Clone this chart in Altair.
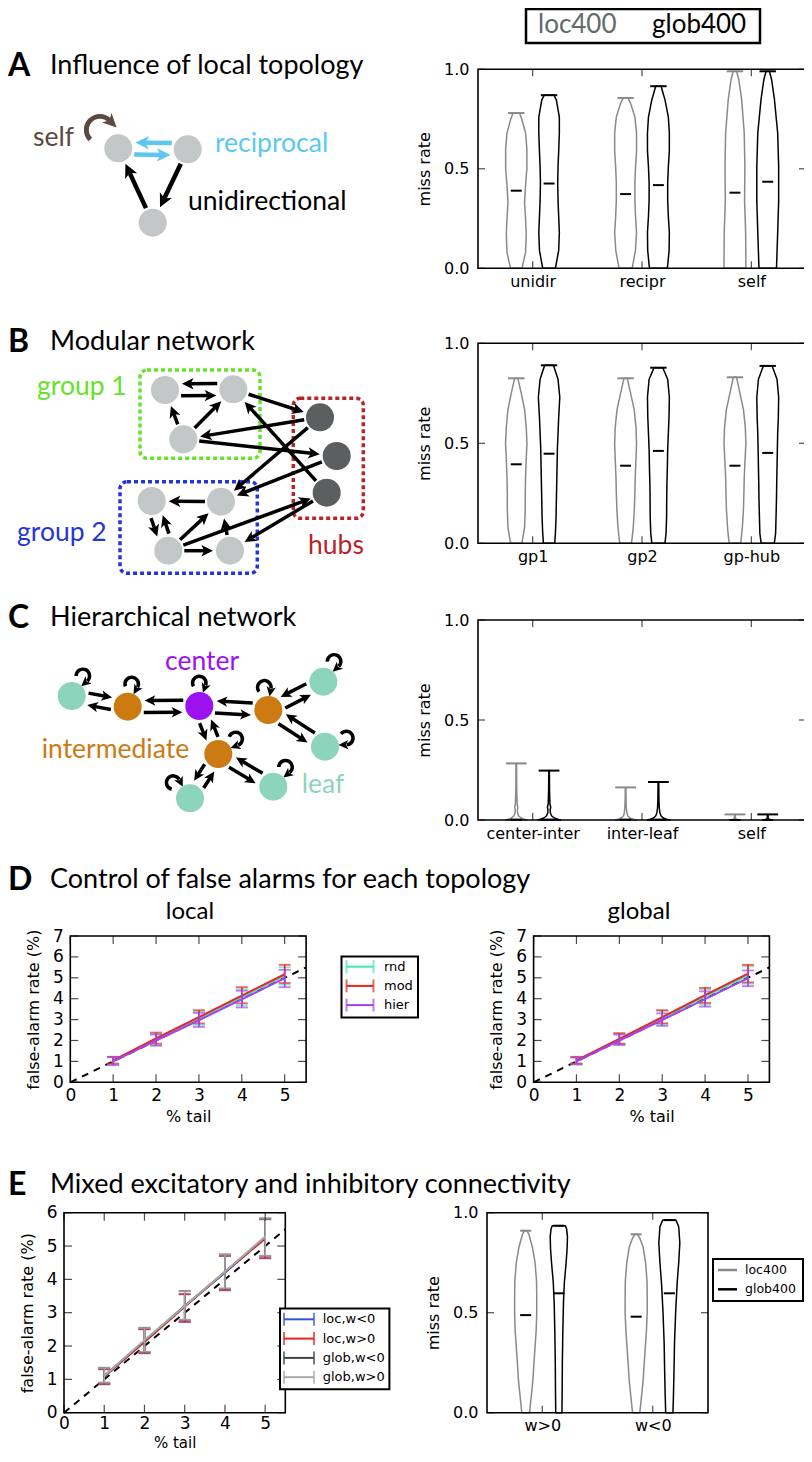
import math
import altair as alt
import pandas as pd

W, H = 796, 1446          # view size (page = chart + 8px margin)
PAD = 8
SANS = "DejaVu Sans"
HEADF = "Lato"
LOC_GREY = "#8a8a8a"

# ===================== DATA =====================
# ---- Panel A violins (miss rate) ----
A_cats = ["unidir", "recipr", "self"]
A_loc_y = [
    [0, 0.08, 0.17, 0.25, 0.33, 0.42, 0.50, 0.60, 0.68, 0.75, 0.78],
    [0, 0.09, 0.18, 0.26, 0.34, 0.43, 0.51, 0.59, 0.68, 0.76, 0.83, 0.856],
    [0, 0.03, 0.18, 0.34, 0.51, 0.68, 0.85, 0.95, 0.99],
]
A_loc_hw = [
    [0.052, 0.085, 0.091, 0.085, 0.076, 0.085, 0.097, 0.097, 0.085, 0.05, 0.03],
    [0.060, 0.090, 0.100, 0.091, 0.085, 0.085, 0.091, 0.100, 0.100, 0.085, 0.045, 0.02],
    [0.100, 0.100, 0.098, 0.088, 0.091, 0.085, 0.061, 0.035, 0.015],
]
A_glob_y = [
    [0, 0.09, 0.18, 0.26, 0.34, 0.43, 0.51, 0.59, 0.68, 0.76, 0.845, 0.87],
    [0, 0.09, 0.18, 0.26, 0.34, 0.43, 0.51, 0.59, 0.68, 0.76, 0.845, 0.895, 0.915],
    [0, 0.03, 0.18, 0.34, 0.51, 0.68, 0.85, 0.95, 0.99],
]
A_glob_hw = [
    [0.058, 0.088, 0.094, 0.088, 0.082, 0.079, 0.082, 0.088, 0.094, 0.094, 0.067, 0.045],
    [0.082, 0.098, 0.100, 0.091, 0.085, 0.085, 0.091, 0.100, 0.100, 0.091, 0.061, 0.035, 0.025],
    [0.080, 0.082, 0.091, 0.100, 0.100, 0.091, 0.061, 0.035, 0.015],
]
A_loc_med = [0.39, 0.373, 0.38]
A_glob_med = [0.426, 0.418, 0.435]

# ---- Panel B violins ----
B_cats = ["gp1", "gp2", "gp-hub"]
B_loc_y = [
    [0, 0.01, 0.08, 0.17, 0.25, 0.33, 0.42, 0.50, 0.58, 0.67, 0.75, 0.825],
    [0, 0.01, 0.08, 0.17, 0.25, 0.33, 0.42, 0.50, 0.58, 0.67, 0.75, 0.825],
    [0, 0.01, 0.08, 0.17, 0.25, 0.33, 0.42, 0.50, 0.58, 0.67, 0.75, 0.83],
]
B_loc_hw = [
    [0.050, 0.055, 0.076, 0.082, 0.082, 0.085, 0.091, 0.098, 0.091, 0.076, 0.046, 0.015],
    [0.052, 0.056, 0.070, 0.080, 0.085, 0.088, 0.095, 0.100, 0.095, 0.078, 0.046, 0.015],
    [0.052, 0.055, 0.068, 0.078, 0.082, 0.085, 0.093, 0.100, 0.095, 0.078, 0.046, 0.015],
]
B_glob_y = [
    [0, 0.05, 0.13, 0.22, 0.30, 0.38, 0.47, 0.55, 0.63, 0.73, 0.82, 0.89],
    [0, 0.05, 0.13, 0.22, 0.30, 0.38, 0.47, 0.55, 0.63, 0.73, 0.82, 0.878],
    [0, 0.05, 0.13, 0.22, 0.30, 0.38, 0.47, 0.55, 0.63, 0.73, 0.82, 0.887],
]
B_glob_hw = [
    [0.052, 0.058, 0.064, 0.067, 0.070, 0.073, 0.076, 0.082, 0.088, 0.098, 0.082, 0.040],
    [0.060, 0.070, 0.075, 0.076, 0.078, 0.082, 0.085, 0.091, 0.097, 0.100, 0.085, 0.040],
    [0.060, 0.072, 0.076, 0.080, 0.082, 0.085, 0.088, 0.091, 0.097, 0.100, 0.085, 0.040],
]
B_loc_med = [0.395, 0.388, 0.388]
B_glob_med = [0.448, 0.462, 0.452]

# ---- Panel C violins ----
C_cats = ["center-inter", "inter-leaf", "self"]
C_loc_y = [
    [0, 0.004, 0.01, 0.02, 0.035, 0.05, 0.065, 0.08, 0.15, 0.283],
    [0, 0.004, 0.01, 0.02, 0.035, 0.06, 0.10, 0.163],
    [0, 0.005, 0.01, 0.028],
]
C_loc_hw = [
    [0.10, 0.075, 0.045, 0.022, 0.012, 0.010, 0.014, 0.008, 0.004, 0.003],
    [0.10, 0.070, 0.040, 0.020, 0.012, 0.007, 0.004, 0.003],
    [0.03, 0.010, 0.004, 0.003],
]
C_glob_y = [
    [0, 0.004, 0.01, 0.02, 0.035, 0.05, 0.065, 0.08, 0.15, 0.247],
    [0, 0.004, 0.01, 0.02, 0.035, 0.06, 0.10, 0.19],
    [0, 0.005, 0.01, 0.028],
]
C_glob_hw = [
    [0.105, 0.080, 0.048, 0.024, 0.012, 0.010, 0.015, 0.008, 0.004, 0.003],
    [0.105, 0.075, 0.045, 0.025, 0.014, 0.008, 0.005, 0.003],
    [0.03, 0.010, 0.004, 0.003],
]
C_loc_med = [0.002, 0.002, 0.0]
C_glob_med = [0.002, 0.002, 0.0]

# ---- Panel E violins ----
E_cats = ["w>0", "w<0"]
E_loc_y = [
    [0, 0.08, 0.16, 0.25, 0.33, 0.41, 0.50, 0.58, 0.66, 0.75, 0.83, 0.89, 0.91],
    [0, 0.08, 0.16, 0.25, 0.33, 0.41, 0.50, 0.58, 0.66, 0.75, 0.83, 0.87, 0.892],
]
E_loc_hw = [
    [0.035, 0.050, 0.065, 0.075, 0.085, 0.095, 0.100, 0.100, 0.098, 0.085, 0.060, 0.030, 0.012],
    [0.033, 0.048, 0.063, 0.073, 0.083, 0.093, 0.100, 0.100, 0.098, 0.085, 0.062, 0.035, 0.012],
]
E_glob_y = [
    [0, 0.10, 0.25, 0.40, 0.55, 0.65, 0.75, 0.82, 0.88, 0.92, 0.935],
    [0, 0.10, 0.20, 0.35, 0.50, 0.65, 0.75, 0.85, 0.93, 0.963],
]
E_glob_hw = [
    [0.028, 0.030, 0.032, 0.036, 0.042, 0.050, 0.066, 0.075, 0.078, 0.070, 0.060],
    [0.033, 0.038, 0.042, 0.047, 0.057, 0.071, 0.085, 0.095, 0.085, 0.060],
]
E_loc_med = [0.488, 0.48]
E_glob_med = [0.597, 0.597]

# ---- Panel D: false-alarm rate vs % tail ----
TAIL = [1, 2, 3, 4, 5]
REF_LINE = [0, 5.5]
D_series = ["rnd", "mod", "hier"]
D_colors = ["#46e6b4", "#e8241c", "#a444ee"]
DL_mean = [[1.02, 2.05, 3.05, 4.07, 5.10], [1.05, 2.10, 3.12, 4.15, 5.17], [1.00, 2.00, 2.97, 3.97, 4.98]]
DL_lo = [[0.85, 1.78, 2.75, 3.68, 4.68], [0.90, 1.85, 2.82, 3.78, 4.75], [0.82, 1.75, 2.65, 3.58, 4.55]]
DL_hi = [[1.20, 2.32, 3.38, 4.45, 5.50], [1.22, 2.38, 3.45, 4.55, 5.62], [1.20, 2.28, 3.32, 4.38, 5.38]]
DG_mean = [[1.03, 2.06, 3.07, 4.10, 5.12], [1.05, 2.08, 3.12, 4.17, 5.20], [1.00, 2.00, 2.98, 3.98, 4.98]]
DG_lo = [[0.88, 1.82, 2.78, 3.72, 4.72], [0.90, 1.85, 2.82, 3.80, 4.78], [0.85, 1.78, 2.70, 3.62, 4.60]]
DG_hi = [[1.20, 2.33, 3.42, 4.45, 5.55], [1.22, 2.35, 3.45, 4.52, 5.62], [1.18, 2.28, 3.30, 4.35, 5.35]]

# ---- Panel E left: mixed connectivity ----
E_series = ["loc,w<0", "loc,w>0", "glob,w<0", "glob,w>0"]
E_colors = ["#3355dd", "#e82020", "#444444", "#a8a8a8"]
EL_mean = [[1.10, 2.15, 3.20, 4.20, 5.25], [1.08, 2.12, 3.18, 4.22, 5.22],
           [1.10, 2.15, 3.20, 4.22, 5.27], [1.10, 2.17, 3.20, 4.23, 5.28]]
EL_lo = [[0.85, 1.78, 2.72, 3.67, 4.63], [0.86, 1.79, 2.73, 3.68, 4.64],
         [0.90, 1.82, 2.78, 3.72, 4.70], [0.90, 1.83, 2.79, 3.73, 4.71]]
EL_hi = [[1.30, 2.50, 3.55, 4.70, 5.80], [1.31, 2.51, 3.56, 4.71, 5.81],
         [1.35, 2.55, 3.65, 4.75, 5.83], [1.34, 2.54, 3.64, 4.74, 5.82]]

VIOLIN_KEYS = ["loc400", "glob400"]

# ---- network diagrams (diagram coordinates) ----
A_node_x = [118.3, 187.7, 152.7]
A_node_y = [148.3, 149.3, 222.7]
A_src = [1, 0, 1, 2]
A_dst = [0, 1, 2, 0]
A_kind = ["recip", "recip", "uni", "uni"]

B_node_x = [165, 233.3, 183.3, 320, 336.7, 326.7, 151.7, 221, 168.3, 230]
B_node_y = [390, 389.3, 439.3, 417.3, 456, 492.7, 501, 501.7, 550.7, 550.7]
B_node_kind = ["g", "g", "g", "hub", "hub", "hub", "g", "g", "g", "g"]
B_src = [1, 0, 2, 2, 1, 3, 2, 3, 5, 4, 8, 5, 7, 6, 8, 8, 8, 9]
B_dst = [0, 1, 0, 1, 3, 2, 4, 7, 1, 7, 5, 9, 6, 8, 6, 7, 9, 7]
B_pair = [1, 1, 0, 0, 0, 0, 0, 0, 0, 0, 0, 0, 0, 1, 1, 0, 0, 0]
B_groups = ["group 1", "group 2", "hubs"]

C_node_x = [199.3, 127.7, 268.3, 218.3, 71.7, 323.3, 325, 273.3, 190]
C_node_y = [706, 706.7, 710, 754, 696, 681.7, 746.7, 786.7, 798.3]
C_node_kind = ["center", "inter", "inter", "inter", "leaf", "leaf", "leaf", "leaf", "leaf"]
C_src = [1, 4, 0, 1, 0, 2, 0, 3, 2, 5, 2, 6, 3, 7, 3, 8]
C_dst = [4, 1, 1, 0, 2, 0, 3, 0, 5, 2, 6, 2, 7, 3, 8, 3]
C_side = [-1, -1, 1, 1, 1, 1, 1, 1, 1, 1, 1, 1, 1, 1, 1, 1]
C_loop_dir = [0, 10, 350, 49, 29, 28, 68, 32, 313]

# ===================== STYLE / LAYOUT =====================
NODE_COL = {"g": "#c3c7c7", "hub": "#5b5f5f", "center": "#9b12ee",
            "inter": "#cc7a12", "leaf": "#8cd4bb"}
RECIP_COL = "#5cc8f0"
SELF_COL = "#5b4a42"
GROUP_COL = ["#66e22a", "#2436d8", "#b8242a"]
ARROW = "M0,-1L0.95,0.95L0,0.45L-0.95,0.95Z"
HEAD_FS = 27
LABEL_FS = 26.5
AX_TITLE_FS = 16


def lin(dom, rng):
    return alt.Scale(domain=dom, range=rng, nice=False, zero=False)


def mk_axis(**kw):
    base = dict(ticks=False, domain=False, grid=False, labelFlush=False,
                labelOverlap=False, labelColor="black", titleColor="black",
                labelFont=SANS, titleFont=SANS, titleFontWeight="normal")
    base.update(kw)
    return alt.Axis(**base)


def frame_layers(X, Y, xd, yd, xticks, yticks, tl=7):
    fr = pd.DataFrame({"x": [xd[0]], "x2": [xd[1]], "y": [yd[0]], "y2": [yd[1]]})
    frame = alt.Chart(fr).mark_rect(fillOpacity=0, stroke="black", strokeWidth=1.6).encode(
        x=X("x"), x2="x2:Q", y=Y("y"), y2="y2:Q")
    tx = pd.DataFrame({"v": xticks, "lo": [yd[0]] * len(xticks), "hi": [yd[1]] * len(xticks)})
    ty = pd.DataFrame({"v": yticks, "lo": [xd[0]] * len(yticks), "hi": [xd[1]] * len(yticks)})
    h = tl / 2
    kw = dict(size=tl, thickness=1.2, color="black")
    t1 = alt.Chart(tx).mark_tick(orient="vertical", yOffset=-h, **kw).encode(x=X("v"), y=Y("lo"))
    t2 = alt.Chart(tx).mark_tick(orient="vertical", yOffset=h, **kw).encode(x=X("v"), y=Y("hi"))
    t3 = alt.Chart(ty).mark_tick(orient="horizontal", xOffset=h, **kw).encode(x=X("lo"), y=Y("v"))
    t4 = alt.Chart(ty).mark_tick(orient="horizontal", xOffset=-h, **kw).encode(x=X("hi"), y=Y("v"))
    return [t1, t2, t3, t4, frame]


def violin_panel(cats, loc_y, loc_hw, glob_y, glob_hw, loc_med, glob_med,
                 box, cap, lab_fs, ext_y, tpad):
    x0, x1, y0, y1 = box
    n = len(cats)
    xd, yd = [0.5, n + 0.5], [0, 1]
    xs, ys = lin(xd, [x0, x1]), lin(yd, [y1, y0])
    expr = "[" + ",".join("'" + c + "'" for c in cats) + "][datum.value - 1]"
    ax_x = mk_axis(orient="bottom", offset=y1 - H, values=list(range(1, n + 1)),
                   labelExpr=expr, labelFontSize=lab_fs, labelPadding=5, title=None)
    ax_y = mk_axis(orient="left", offset=-x0, values=[0, 0.5, 1], format=".1f",
                   labelFontSize=lab_fs, labelPadding=9, title="miss rate",
                   titleFontSize=AX_TITLE_FS, titlePadding=tpad, minExtent=ext_y, maxExtent=ext_y)
    X = lambda f: alt.X(f, type="quantitative", scale=xs, axis=ax_x)
    Y = lambda f: alt.Y(f, type="quantitative", scale=ys, axis=ax_y)
    outline, caps, meds = [], [], []
    for i in range(n):
        for kind, yy, ww, med, off, col in (
                ("loc", loc_y[i], loc_hw[i], loc_med[i], -0.15, LOC_GREY),
                ("glob", glob_y[i], glob_hw[i], glob_med[i], 0.15, "black")):
            pos = i + 1 + off
            pts = [(pos - w, v) for v, w in zip(yy, ww)]
            pts += [(pos + w, v) for v, w in reversed(list(zip(yy, ww)))]
            pts.append(pts[0])
            for k, (px_, py_) in enumerate(pts):
                outline.append({"id": kind + str(i), "x": px_, "y": py_, "o": k, "c": col})
            caps.append({"x": pos - cap, "x2": pos + cap, "y": yy[-1], "c": col})
            meds.append({"x": pos - 0.05, "x2": pos + 0.05, "y": med})
    l_out = alt.Chart(pd.DataFrame(outline)).mark_line(strokeWidth=1.5, strokeJoin="round").encode(
        x=X("x"), y=Y("y"), order="o:Q", detail="id:N", color=alt.Color("c:N", scale=None))
    l_cap = alt.Chart(pd.DataFrame(caps)).mark_rule(strokeWidth=2).encode(
        x=X("x"), x2="x2:Q", y=Y("y"), color=alt.Color("c:N", scale=None))
    l_med = alt.Chart(pd.DataFrame(meds)).mark_rule(strokeWidth=2, color="black").encode(
        x=X("x"), x2="x2:Q", y=Y("y"))
    fl = frame_layers(X, Y, xd, yd, list(range(1, n + 1)), [0, 0.5, 1])
    return alt.layer(l_out, l_cap, l_med, *fl)


def err_panel(colors, means, los, his, box, ymax, lab_fs, ext_x, ext_y, tpad_x, tpad_y,
              xlab_pad=5, xtitle_fs=AX_TITLE_FS):
    x0, x1, y0, y1 = box
    xd, yd = [0, 5.5], [0, ymax]
    xs, ys = lin(xd, [x0, x1]), lin(yd, [y1, y0])
    xt, yt = list(range(0, 6)), list(range(0, ymax + 1))
    ax_x = mk_axis(orient="bottom", offset=y1 - H, values=xt, format="d",
                   labelFontSize=lab_fs, labelPadding=xlab_pad, title="% tail", titleFontSize=xtitle_fs,
                   titlePadding=tpad_x, minExtent=ext_x, maxExtent=ext_x)
    ax_y = mk_axis(orient="left", offset=-x0, values=yt, format="d",
                   labelFontSize=lab_fs, labelPadding=7, title="false-alarm rate (%)",
                   titleFontSize=AX_TITLE_FS, titlePadding=tpad_y, minExtent=ext_y, maxExtent=ext_y)
    X = lambda f: alt.X(f, type="quantitative", scale=xs, axis=ax_x)
    Y = lambda f: alt.Y(f, type="quantitative", scale=ys, axis=ax_y)
    layers = [alt.Chart(pd.DataFrame({"x": REF_LINE, "y": REF_LINE})).mark_line(
        color="black", strokeDash=[7, 6], strokeWidth=2).encode(x=X("x"), y=Y("y"))]
    for col, m, lo, hi in zip(colors, means, los, his):
        df = pd.DataFrame({"x": TAIL, "m": m, "lo": lo, "hi": hi})
        layers.append(alt.Chart(df).mark_rule(color=col, strokeWidth=1.6).encode(
            x=X("x"), y=Y("lo"), y2="hi:Q"))
        layers.append(alt.Chart(df).mark_tick(orient="horizontal", color=col, size=12, thickness=1.8).encode(
            x=X("x"), y=Y("lo")))
        layers.append(alt.Chart(df).mark_tick(orient="horizontal", color=col, size=12, thickness=1.8).encode(
            x=X("x"), y=Y("hi")))
        layers.append(alt.Chart(df).mark_line(color=col, strokeWidth=2).encode(x=X("x"), y=Y("m")))
    layers += frame_layers(X, Y, xd, yd, xt, yt, tl=8)
    return alt.layer(*layers)


# ---------------- canvas (annotations, diagrams, legends) ----------------
cxs = lin([0, 812], [-PAD, 812 - PAD])
cys = lin([0, 1462], [-PAD, 1462 - PAD])
CX = lambda f: alt.X(f, type="quantitative", scale=cxs, axis=None)
CY = lambda f: alt.Y(f, type="quantitative", scale=cys, axis=None)


def text_layer(texts, xs_, ys_, colors, size, font=HEADF, weight="normal", align="left"):
    df = pd.DataFrame({"t": texts, "x": xs_, "y": ys_, "c": colors})
    return alt.Chart(df).mark_text(font=font, fontSize=size, fontWeight=weight,
                                   align=align, baseline="middle").encode(
        x=CX("x"), y=CY("y"), text="t:N", color=alt.Color("c:N", scale=None))


def box_layer(x0, x1, y0, y1, sw=2):
    df = pd.DataFrame({"x": [x0], "x2": [x1], "y": [y0], "y2": [y1]})
    return alt.Chart(df).mark_rect(fill="white", stroke="black", strokeWidth=sw).encode(
        x=CX("x"), x2="x2:Q", y=CY("y"), y2="y2:Q")


def legend_layers(labels, colors, box, sx0, sx1, tx, y0, dy, kind, fs=13):
    rows = [{"x": sx0, "x2": sx1, "y": y0 + i * dy, "c": c, "t": t}
            for i, (t, c) in enumerate(zip(labels, colors))]
    df = pd.DataFrame(rows)
    out = [box_layer(*box)]
    out.append(alt.Chart(df).mark_rule(strokeWidth=2 if kind == "err" else 2.5).encode(
        x=CX("x"), x2="x2:Q", y=CY("y"), color=alt.Color("c:N", scale=None)))
    if kind == "err":
        for f in ("x", "x2"):
            out.append(alt.Chart(df).mark_tick(orient="vertical", size=13, thickness=2).encode(
                x=CX(f), y=CY("y"), color=alt.Color("c:N", scale=None)))
    out.append(alt.Chart(df.assign(tx=tx)).mark_text(font=SANS, fontSize=fs, align="left",
                                                     baseline="middle", color="black").encode(
        x=CX("tx"), y=CY("y"), text="t:N"))
    return out


def edge_data(nx, ny, src, dst, offs, cols, r, hs):
    lines, heads = [], []
    for s, d, o, c in zip(src, dst, offs, cols):
        x1, y1, x2, y2 = nx[s], ny[s], nx[d], ny[d]
        L = math.hypot(x2 - x1, y2 - y1)
        ux, uy = (x2 - x1) / L, (y2 - y1) / L
        qx, qy = -uy, ux
        sx, sy = x1 + ux * (r + 2) + qx * o, y1 + uy * (r + 2) + qy * o
        tx, ty = x2 - ux * (r + 3) + qx * o, y2 - uy * (r + 3) + qy * o
        hx, hy = tx - ux * hs / 2, ty - uy * hs / 2
        lines.append({"x": sx, "y": sy, "x2": hx, "y2": hy, "c": c})
        heads.append({"x": hx, "y": hy, "a": (math.degrees(math.atan2(ux, -uy)) + 360) % 360, "c": c})
    return lines, heads


def loop_data(nx, ny, nodes, dirs, dist, R, th, a1, a2, col):
    arcs, heads = [], []
    rm = R - th / 2
    for nd, phi in zip(nodes, dirs):
        pr = math.radians(phi)
        cx_, cy_ = nx[nd] + dist * math.sin(pr), ny[nd] - dist * math.cos(pr)
        t1, t2 = phi - a1, phi + a2
        if t1 < 0:
            t1, t2 = t1 + 360, t2 + 360
        arcs.append({"x": cx_, "y": cy_, "t1": math.radians(t1), "t2": math.radians(t2), "c": col})
        te = math.radians(t2)
        ex, ey = cx_ + rm * math.sin(te), cy_ - rm * math.cos(te)
        heads.append({"x": ex + math.cos(te) * 3, "y": ey + math.sin(te) * 3,
                      "a": (t2 + 90) % 360, "c": col})
    return arcs, heads


def rule_layer(rows, lw):
    return alt.Chart(pd.DataFrame(rows)).mark_rule(strokeWidth=lw).encode(
        x=CX("x"), y=CY("y"), x2="x2:Q", y2="y2:Q", color=alt.Color("c:N", scale=None))


def head_layer(rows, hs):
    return alt.Chart(pd.DataFrame(rows)).mark_point(shape=ARROW, filled=True, size=hs * hs,
                                                    opacity=1, strokeWidth=0).encode(
        x=CX("x"), y=CY("y"), angle=alt.Angle("a:Q", scale=None), color=alt.Color("c:N", scale=None))


def arc_layer(rows, R, th):
    return alt.Chart(pd.DataFrame(rows)).mark_arc(radius=R, radius2=R - th, opacity=1).encode(
        x=CX("x"), y=CY("y"), theta=alt.Theta("t1:Q", scale=None, stack=False),
        theta2=alt.Theta2("t2:Q"), color=alt.Color("c:N", scale=None))


def node_layer(nx, ny, cols, r):
    df = pd.DataFrame({"x": nx, "y": ny, "c": cols})
    return alt.Chart(df).mark_circle(size=4 * r * r, opacity=1).encode(
        x=CX("x"), y=CY("y"), color=alt.Color("c:N", scale=None))


canvas = []
# headings
canvas.append(text_layer(["Influence of local topology", "Modular network", "Hierarchical network",
                          "Control of false alarms for each topology",
                          "Mixed excitatory and inhibitory connectivity"],
                         [50] * 5, [66, 342, 618, 880, 1185], ["black"] * 5, HEAD_FS))
canvas.append(text_layer(["A", "B", "C", "D", "E"], [8] * 5, [66, 342, 618, 880, 1185],
                         ["black"] * 5, 32, weight="bold"))
# diagram labels
canvas.append(text_layer(["self", "reciprocal", "unidirectional", "group 1", "group 2", "hubs",
                          "center", "intermediate", "leaf"],
                         [33, 215, 188, 37, 17, 308, 165, 41.7, 301.7],
                         [138, 144, 201.7, 386.7, 533.3, 546, 661.7, 750, 785],
                         [SELF_COL, RECIP_COL, "black", GROUP_COL[0], GROUP_COL[1], GROUP_COL[2],
                          NODE_COL["center"], NODE_COL["inter"], NODE_COL["leaf"]], LABEL_FS))
# D subplot titles
canvas.append(text_layer(["local", "global"], [190, 639], [912, 912], ["black", "black"], 24,
                         align="center"))
# top legend
canvas.append(box_layer(526, 760, 9, 43, sw=2.5))
canvas.append(text_layer(VIOLIN_KEYS, [538, 652], [25, 25], ["#5f6b6b", "black"], 26))

# ---- diagram A ----
A_cols = [RECIP_COL if k == "recip" else "black" for k in A_kind]
A_offs = [6 if k == "recip" else 0 for k in A_kind]
la, ha = edge_data(A_node_x, A_node_y, A_src, A_dst, A_offs, A_cols, 14, 14)
arcA, hA = loop_data(A_node_x, A_node_y, [0], [315], 26, 16, 5, 90, 90, SELF_COL)
canvas += [rule_layer(la, 4.5), head_layer(ha, 14), arc_layer(arcA, 16, 5), head_layer(hA, 14),
           node_layer(A_node_x, A_node_y, [NODE_COL["g"]] * 3, 14)]

# ---- diagram B ----
gb = pd.DataFrame({"x": [140, 120, 293.3], "x2": [260, 257.3, 363.3],
                   "y": [370, 481.7, 398.3], "y2": [458.3, 573.3, 518.3], "c": GROUP_COL})
canvas.append(alt.Chart(gb).mark_rect(fillOpacity=0, strokeWidth=3.5, strokeDash=[4, 3],
                                      cornerRadius=7).encode(
    x=CX("x"), x2="x2:Q", y=CY("y"), y2="y2:Q", stroke=alt.Stroke("c:N", scale=None)))
lb, hb = edge_data(B_node_x, B_node_y, B_src, B_dst, [6 * p for p in B_pair],
                   ["black"] * len(B_src), 14, 12)
canvas += [rule_layer(lb, 3.5), head_layer(hb, 12),
           node_layer(B_node_x, B_node_y, [NODE_COL[k] for k in B_node_kind], 14)]

# ---- diagram C ----
lc, hc = edge_data(C_node_x, C_node_y, C_src, C_dst, [6 * s for s in C_side],
                   ["black"] * len(C_src), 14, 11)
arcC, hC = loop_data(C_node_x, C_node_y, list(range(9)), C_loop_dir, 23, 8.5, 3.5, 120, 110, "black")
canvas += [rule_layer(lc, 3.5), head_layer(hc, 11), arc_layer(arcC, 8.5, 3.5), head_layer(hC, 10),
           node_layer(C_node_x, C_node_y, [NODE_COL[k] for k in C_node_kind], 14)]

# ---- legends ----
canvas += legend_layers(D_series, D_colors, (341.5, 418, 956.5, 1017.5), 346.5, 373.5, 384,
                        966.7, 19.2, "err")
canvas += legend_layers(E_series, E_colors, (280, 389.4, 1308.5, 1389.3), 284, 314, 322.7,
                        1319.3, 19.3, "err")
canvas += legend_layers(VIOLIN_KEYS, [LOC_GREY, "black"], (713, 803, 1259, 1301), 718, 737, 745,
                        1270, 19.3, "line", fs=12.5)

# ---------------- assemble ----------------
vA = violin_panel(A_cats, A_loc_y, A_loc_hw, A_glob_y, A_glob_hw, A_loc_med, A_glob_med,
                  (470, 798, 61.3, 260.3), 0.075, 16, 35, 11)
vB = violin_panel(B_cats, B_loc_y, B_loc_hw, B_glob_y, B_glob_hw, B_loc_med, B_glob_med,
                  (470, 798, 335.3, 535.3), 0.075, 16, 35, 11)
vC = violin_panel(C_cats, C_loc_y, C_loc_hw, C_glob_y, C_glob_hw, C_loc_med, C_glob_med,
                  (470, 798, 612, 812), 0.095, 16, 35, 11)
vE = violin_panel(E_cats, E_loc_y, E_loc_hw, E_glob_y, E_glob_hw, E_loc_med, E_glob_med,
                  (479, 700, 1204.7, 1404.7), 0.05, 16, 35, 11)
dL = err_panel(D_colors, DL_mean, DL_lo, DL_hi, (62.3, 298.1, 928, 1074.3), 7, 17, 22, 18, 4, 11)
dG = err_panel(D_colors, DG_mean, DG_lo, DG_hi, (525.6, 761.4, 928, 1074.3), 7, 17, 22, 18, 4, 11)
eL = err_panel(E_colors, EL_mean, EL_lo, EL_hi, (56, 277.3, 1204.7, 1404.7), 6, 17, 23, 18, 0, 11,
               xlab_pad=3, xtitle_fs=15)

chart = alt.layer(vA, vB, vC, vE, dL, dG, eL, alt.layer(*canvas)).resolve_scale(
    x="independent", y="independent"
).properties(
    width=W, height=H, padding=0, autosize=alt.AutoSizeParams(type="none")
).configure_view(strokeWidth=0)

chart.save("out.html", embed_options={"renderer": "svg", "actions": False})
